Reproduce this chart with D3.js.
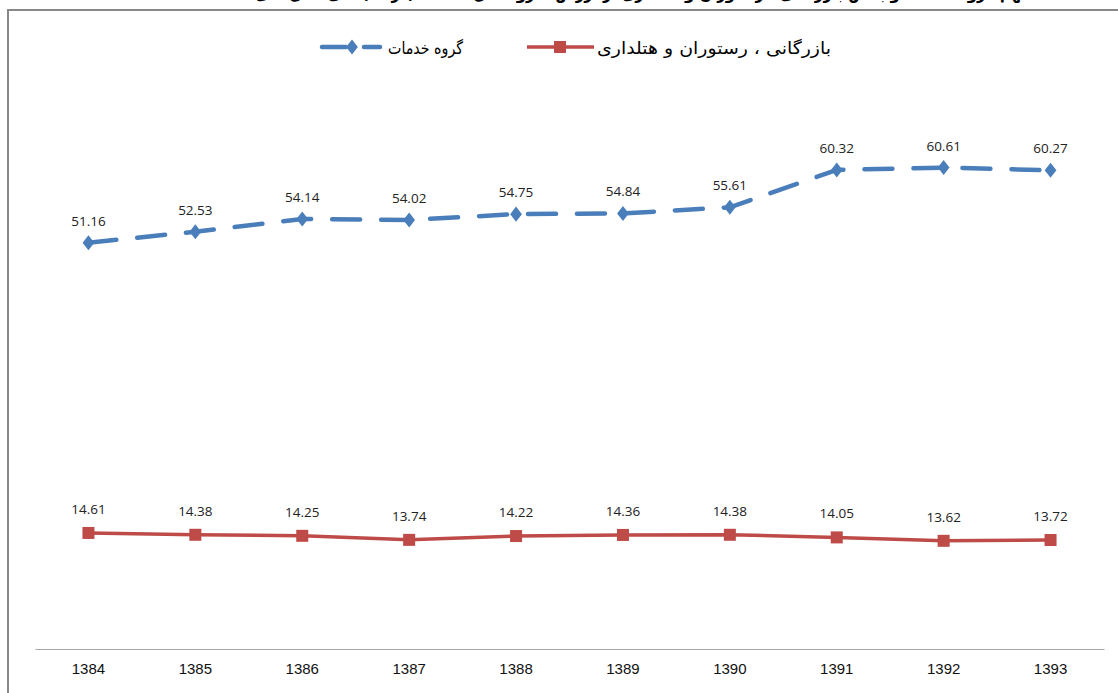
<!DOCTYPE html>
<html>
<head>
<meta charset="utf-8">
<script src="https://cdn.jsdelivr.net/npm/d3@7"></script>
<style>
  body { margin: 0; background: #fff; }
  svg { display: block; }
</style>
</head>
<body>
<div id="chart"></div>
<script>
const years = ["1384", "1385", "1386", "1387", "1388", "1389", "1390", "1391", "1392", "1393"];
const services = [51.16, 52.53, 54.14, 54.02, 54.75, 54.84, 55.61, 60.32, 60.61, 60.27];
const trade = [14.61, 14.38, 14.25, 13.74, 14.22, 14.36, 14.38, 14.05, 13.62, 13.72];
const seriesNames = ["گروه خدمات", "بازرگانی ، رستوران و هتلداری"];
const titleText = "سهم گروه خدمات و بخش بازرگانی ، رستوران و هتلداری از ارزش افزوده کل اقتصاد (درصد) طی سال های ۱۳۸۴ تا ۱۳۹۳";

const W = 1118, H = 693;
const svg = d3.select("#chart").append("svg")
    .attr("width", W).attr("height", H);

// title, cut off at the top as in the source image
svg.append("text")
    .attr("x", 596).attr("y", -1)
    .attr("text-anchor", "middle")
    .attr("direction", "rtl")
    .style("font-family", "'DejaVu Sans', sans-serif")
    .style("font-size", "17px").style("font-weight", "bold")
    .attr("textLength", 880).attr("lengthAdjust", "spacingAndGlyphs")
    .attr("fill", "#000")
    .text(titleText);

// chart frame
svg.append("rect")
    .attr("x", 8).attr("y", 10)
    .attr("width", W + 20).attr("height", H + 20)
    .attr("fill", "none").attr("stroke", "#888").attr("stroke-width", 2);

const x = d3.scaleBand().domain(years).range([35, 1104]);
const y = d3.scaleLinear().domain([0, 70]).range([649, 93]);
const cx = d => x(d) + x.bandwidth() / 2;

// x axis
const xAxis = svg.append("g")
    .attr("transform", "translate(0,649)")
    .call(d3.axisBottom(x).tickSize(0).tickPadding(14));
xAxis.select(".domain").attr("stroke", "#a6a6a6").attr("stroke-width", 1.2);
xAxis.selectAll("text")
    .style("font-family", "'Liberation Sans Narrow', 'Liberation Sans', sans-serif")
    .style("font-size", "15px").attr("fill", "#111");

const blue = "#4a7ebb", red = "#be4b48";
const line = d3.line().x((d, i) => cx(years[i])).y(d => y(d));

// services (dashed, diamonds)
svg.append("path").datum(services)
    .attr("d", line).attr("fill", "none")
    .attr("stroke", blue).attr("stroke-width", 4.5)
    .attr("stroke-dasharray", "28,21").attr("stroke-linecap", "round");
svg.selectAll(".dia").data(services).enter().append("path")
    .attr("class", "dia")
    .attr("d", d3.symbol().type(d3.symbolDiamond).size(90))
    .attr("transform", (d, i) => `translate(${cx(years[i])},${y(d)}) scale(1.15,0.85)`)
    .attr("fill", blue);

// trade (solid, squares)
svg.append("path").datum(trade)
    .attr("d", line).attr("fill", "none")
    .attr("stroke", red).attr("stroke-width", 3.5);
svg.selectAll(".sq").data(trade).enter().append("rect")
    .attr("class", "sq")
    .attr("x", (d, i) => cx(years[i]) - 6).attr("y", d => y(d) - 6)
    .attr("width", 12).attr("height", 12)
    .attr("fill", red);

// data labels
const labelFont = "'Open Sans', 'DejaVu Sans', sans-serif";
svg.selectAll(".lb1").data(services).enter().append("text")
    .attr("x", (d, i) => cx(years[i])).attr("y", d => y(d) - 17)
    .attr("text-anchor", "middle")
    .style("font-family", labelFont).style("font-size", "13.5px")
    .attr("fill", "#222").text(d => d.toFixed(2));
svg.selectAll(".lb2").data(trade).enter().append("text")
    .attr("x", (d, i) => cx(years[i])).attr("y", d => y(d) - 19)
    .attr("text-anchor", "middle")
    .style("font-family", labelFont).style("font-size", "13.5px")
    .attr("fill", "#222").text(d => d.toFixed(2));

// legend
const legFont = "'DejaVu Sans', sans-serif";
const lg = svg.append("g");
// services entry
lg.append("line").attr("x1", 322).attr("x2", 380).attr("y1", 47).attr("y2", 47)
    .attr("stroke", blue).attr("stroke-width", 4.5)
    .attr("stroke-dasharray", "24,18").attr("stroke-linecap", "round");
lg.append("path")
    .attr("d", d3.symbol().type(d3.symbolDiamond).size(90))
    .attr("transform", "translate(352,47) scale(1.15,0.85)").attr("fill", blue);
lg.append("text").attr("x", 388).attr("y", 54)
    .style("font-family", legFont).style("font-size", "17px")
    .attr("textLength", 75).attr("lengthAdjust", "spacingAndGlyphs")
    .attr("fill", "#000").text(seriesNames[0]);
// trade entry
lg.append("line").attr("x1", 527).attr("x2", 594).attr("y1", 47).attr("y2", 47)
    .attr("stroke", red).attr("stroke-width", 3.5);
lg.append("rect").attr("x", 554).attr("y", 41).attr("width", 12).attr("height", 12)
    .attr("fill", red);
lg.append("text").attr("x", 597).attr("y", 54)
    .style("font-family", legFont).style("font-size", "17px")
    .attr("textLength", 234).attr("lengthAdjust", "spacingAndGlyphs")
    .attr("fill", "#000").text(seriesNames[1]);
</script>
</body>
</html>
